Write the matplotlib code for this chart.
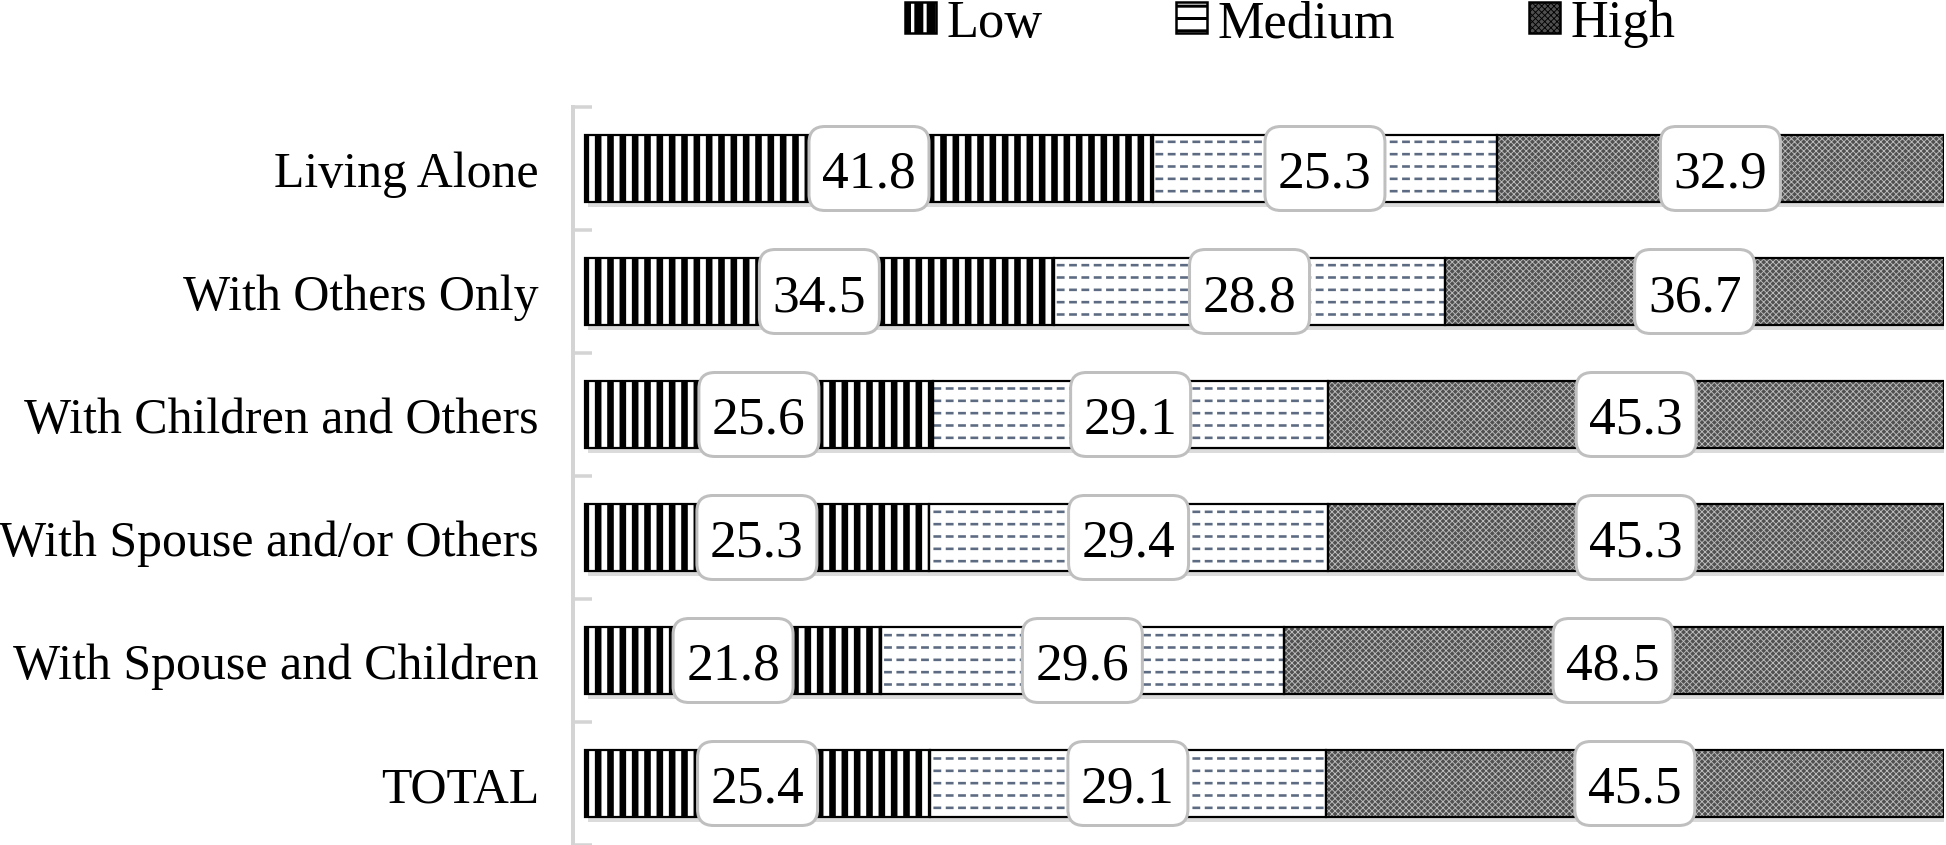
import matplotlib
matplotlib.use("Agg")
import matplotlib as mpl
import matplotlib.pyplot as plt
import matplotlib.patches as mpatches
import matplotlib.patheffects as pe
import matplotlib.transforms as mtransforms
from matplotlib.font_manager import FontProperties
import numpy as np

categories = ["Living Alone", "With Others Only", "With Children and Others",
              "With Spouse and/or Others", "With Spouse and Children", "TOTAL"]
low = [41.8, 34.5, 25.6, 25.3, 21.8, 25.4]
medium = [25.3, 28.8, 29.1, 29.4, 29.6, 29.1]
high = [32.9, 36.7, 45.3, 45.3, 48.5, 45.5]
series_names = ["Low", "Medium", "High"]

DPI = 74
W, H = 1946, 846
plt.rcParams['font.family'] = ['Liberation Serif', 'DejaVu Serif']

fig = plt.figure(figsize=(W / DPI, H / DPI), dpi=DPI)
ax = fig.add_axes([573 / W, 0.0, (1944 - 573) / W, 1 - 108 / H])

y = np.arange(len(categories))
bh = 0.54
px = 72 / DPI  # points per pixel

styles = {
    "Low": dict(face="white", hcol="black", hatch="|", hlw=6.6 * px),
    "Medium": dict(face="white", hcol="#5d6b82", hatch="-", hlw=2.6 * px),
    "High": dict(face="#505050", hcol="#bcbcbc", hatch="xxxx", hlw=0.9 * px),
}

shadow = [pe.SimplePatchShadow(offset=(3, -5), shadow_rgbFace="#9a9a9a", alpha=0.35), pe.Normal()]

def hatched_barh(vals, left, st, hcol=None, hatch=None, hlw=None, face=None, z=2):
    hcol = hcol or st["hcol"]
    hatch = hatch or st["hatch"]
    hlw = hlw or st["hlw"]
    face = face or st["face"]
    with mpl.rc_context({'hatch.linewidth': hlw}):
        bars = ax.barh(y, vals, left=left, height=bh, color=face,
                       edgecolor=hcol, hatch=hatch, linewidth=0, zorder=z)
    for b in bars:
        if hasattr(b, "set_hatch_linewidth"):
            b.set_hatch_linewidth(hlw)
    return bars

data = [low, medium, high]
lefts = [np.zeros(len(y)), np.array(low), np.array(low) + np.array(medium)]

BOX_W, BOX_H, BOX_R = 120, 84, 16  # label box size in pixels
pix = mtransforms.Affine2D().scale(1.0 / DPI) + fig.dpi_scale_trans

for name, vals, left in zip(series_names, data, lefts):
    st = styles[name]
    base = ax.barh(y, vals, left=left, height=bh, color=st["face"], linewidth=0, zorder=1.5)
    for b in base:
        b.set_path_effects(shadow)
    hatched_barh(vals, left, st)
    if name == "Medium":
        # break the horizontal lines into dashes
        hatched_barh(vals, left, st, hcol="white", hatch="|", hlw=4.5 * px,
                     face="none", z=2.2)
    ax.barh(y, vals, left=left, height=bh, fill=False, edgecolor="black",
            linewidth=2.2 * px, zorder=3)
    for yi, v, l in zip(y, vals, left):
        cx = l + v / 2
        tr = pix + mtransforms.ScaledTranslation(cx, yi, ax.transData)
        box = mpatches.FancyBboxPatch((-BOX_W / 2, -BOX_H / 2), BOX_W, BOX_H,
                                      boxstyle=f"round,pad=0,rounding_size={BOX_R}",
                                      facecolor="white", edgecolor="#bfbfbf",
                                      linewidth=3 * px, transform=tr, zorder=4)
        ax.add_patch(box)
        ax.text(cx, yi, f"{v:.1f}", ha="center", va="center_baseline", fontsize=52,
                zorder=5)

ax.set_xlim(-0.88, 100)
ax.set_ylim(len(categories) - 0.5, -0.5)
ax.set_xticks([])
ax.set_yticks(y)
ax.set_yticklabels(categories, fontsize=48.5)
ax.tick_params(axis="y", which="major", length=0, pad=34 * px)
ax.set_yticks(np.arange(-0.5, len(categories) + 0.5, 1.0), minor=True)
ax.tick_params(axis="y", which="minor", length=19 * px, width=3.5 * px,
               color="#d4d4d4", direction="in")
for s in ["top", "right", "bottom"]:
    ax.spines[s].set_visible(False)
ax.spines["left"].set_color("#d4d4d4")
ax.spines["left"].set_linewidth(4 * px)

handles = []
for name in series_names:
    st = styles[name]
    with mpl.rc_context({'hatch.linewidth': st["hlw"]}):
        h = mpatches.Rectangle((0, 0), 1, 1, facecolor=st["face"], edgecolor="black",
                               hatch=st["hatch"], linewidth=2.5 * px)
    handles.append(h)
leg_font = FontProperties(family=['Liberation Serif', 'DejaVu Serif'], size=51)
leg = fig.legend(handles, series_names, loc="center", bbox_to_anchor=(1290 / W, 1 - 24 / H),
                 ncol=3, frameon=False, prop=leg_font, handlelength=0.59, handleheight=0.55,
                 handletextpad=0.2, columnspacing=2.55, borderpad=0, borderaxespad=0)
leg_hlw = {"Low": 9 * px, "Medium": 3 * px, "High": 0.9 * px}
for name, lh in zip(series_names, leg.legend_handles):
    if hasattr(lh, "set_hatch_linewidth"):
        lh.set_hatch_linewidth(leg_hlw[name])
    if name == "Low":
        lh.set_facecolor("white")
    lh.set_edgecolor("black")

fig.savefig("out.png", dpi=DPI)
